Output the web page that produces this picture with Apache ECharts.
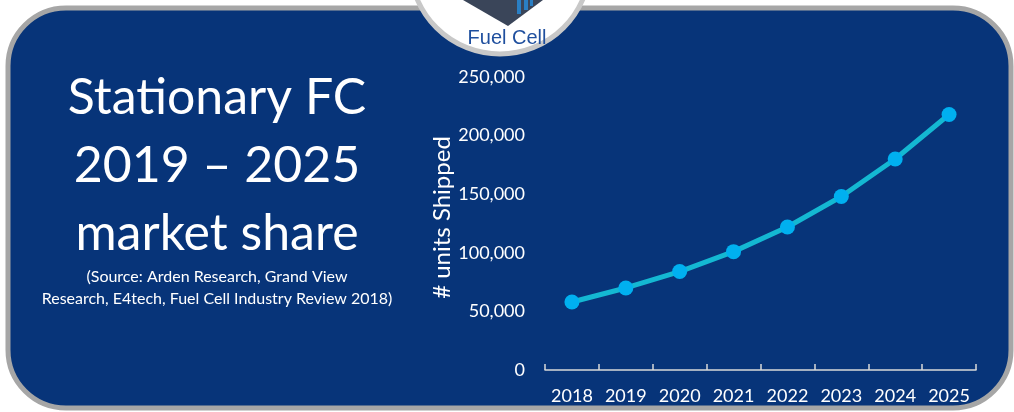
<!DOCTYPE html>
<html>
<head>
<meta charset="utf-8">
<script src="https://cdn.jsdelivr.net/npm/echarts@6/dist/echarts.min.js"></script>
<style>
  html, body { margin: 0; padding: 0; background: #ffffff; }
  #main { width: 1014px; height: 412px; }
</style>
</head>
<body>
<div id="main"></div>
<script>
// data
const years = ["2018", "2019", "2020", "2021", "2022", "2023", "2024", "2025"];
const unitsShipped = [58000, 70000, 84000, 101000, 122000, 148000, 180000, 218000];
const titleLines = ["Stationary FC", "2019 \u2013 2025", "market share"];
const sourceLines = ["(Source: Arden Research, Grand View", "Research, E4tech, Fuel Cell Industry Review 2018)"];

const chart = echarts.init(document.getElementById("main"));

const font = "Lato, 'Open Sans', sans-serif";

const option = {
  backgroundColor: "#ffffff",
  animation: false,
  graphic: [
    // rounded panel
    {
      type: "rect",
      z: -10,
      shape: { x: 8, y: 8, width: 1003, height: 400, r: 58 },
      style: { fill: "#073479", stroke: "#a6a6a6", lineWidth: 5 }
    },
    // logo badge at the top
    {
      type: "circle",
      z: -5,
      shape: { cx: 500, cy: -36, r: 90 },
      style: { fill: "#ffffff", stroke: "#c8c8c8", lineWidth: 5 }
    },
    {
      type: "polygon",
      z: -4,
      shape: { points: [[463, 0], [543, 0], [508, 26]] },
      style: { fill: "#3a4559" }
    },
    {
      type: "rect", z: -3,
      shape: { x: 517, y: 0, width: 4, height: 14 },
      style: { fill: "#2a7fc4" }
    },
    {
      type: "rect", z: -3,
      shape: { x: 524, y: 0, width: 4, height: 10 },
      style: { fill: "#2a7fc4" }
    },
    {
      type: "rect", z: -3,
      shape: { x: 530, y: 0, width: 3, height: 6 },
      style: { fill: "#2a7fc4" }
    },
    {
      type: "text", z: -3,
      x: 507, y: 38,
      style: {
        text: "Fuel Cell", fill: "#1f4f9e",
        font: "20px 'Liberation Sans', Arial, sans-serif",
        align: "center", verticalAlign: "middle"
      }
    },
    // headline on the left
    {
      type: "text",
      x: 217, y: 64,
      style: {
        text: titleLines.join("\n"),
        fill: "#ffffff",
        font: "50px " + font,
        align: "center",
        verticalAlign: "top",
        lineHeight: 68
      }
    },
    {
      type: "text",
      x: 217, y: 266,
      style: {
        text: sourceLines.join("\n"),
        fill: "#ffffff",
        font: "16px " + font,
        align: "center",
        verticalAlign: "top",
        lineHeight: 22
      }
    }
  ],
  grid: {
    left: 545,
    right: 38,
    top: 77,
    bottom: 42
  },
  xAxis: {
    type: "category",
    data: years,
    boundaryGap: true,
    axisLine: { show: true, lineStyle: { color: "#d9d9d9", width: 1.5 } },
    axisTick: { show: true, inside: true, length: 6, interval: 0, lineStyle: { color: "#d9d9d9", width: 1.5 } },
    axisLabel: { color: "#ffffff", fontSize: 18, fontFamily: font, margin: 17, interval: 0 }
  },
  yAxis: {
    type: "value",
    min: 0,
    max: 250000,
    interval: 50000,
    name: "# units Shipped",
    nameLocation: "middle",
    nameGap: 86,
    nameTextStyle: { color: "#ffffff", fontSize: 24, fontFamily: font, padding: [0, 0, 0, 12] },
    axisLine: { show: false },
    axisTick: { show: false },
    splitLine: { show: false },
    axisLabel: {
      color: "#ffffff",
      fontSize: 18,
      fontFamily: font,
      margin: 20,
      formatter: function (v) { return v.toLocaleString("en-US"); }
    }
  },
  series: [
    {
      type: "line",
      data: unitsShipped,
      symbol: "circle",
      symbolSize: 15,
      lineStyle: { color: "#14b8d2", width: 5 },
      itemStyle: { color: "#00b0f0" },
      smooth: false
    }
  ]
};

chart.setOption(option);
</script>
</body>
</html>
